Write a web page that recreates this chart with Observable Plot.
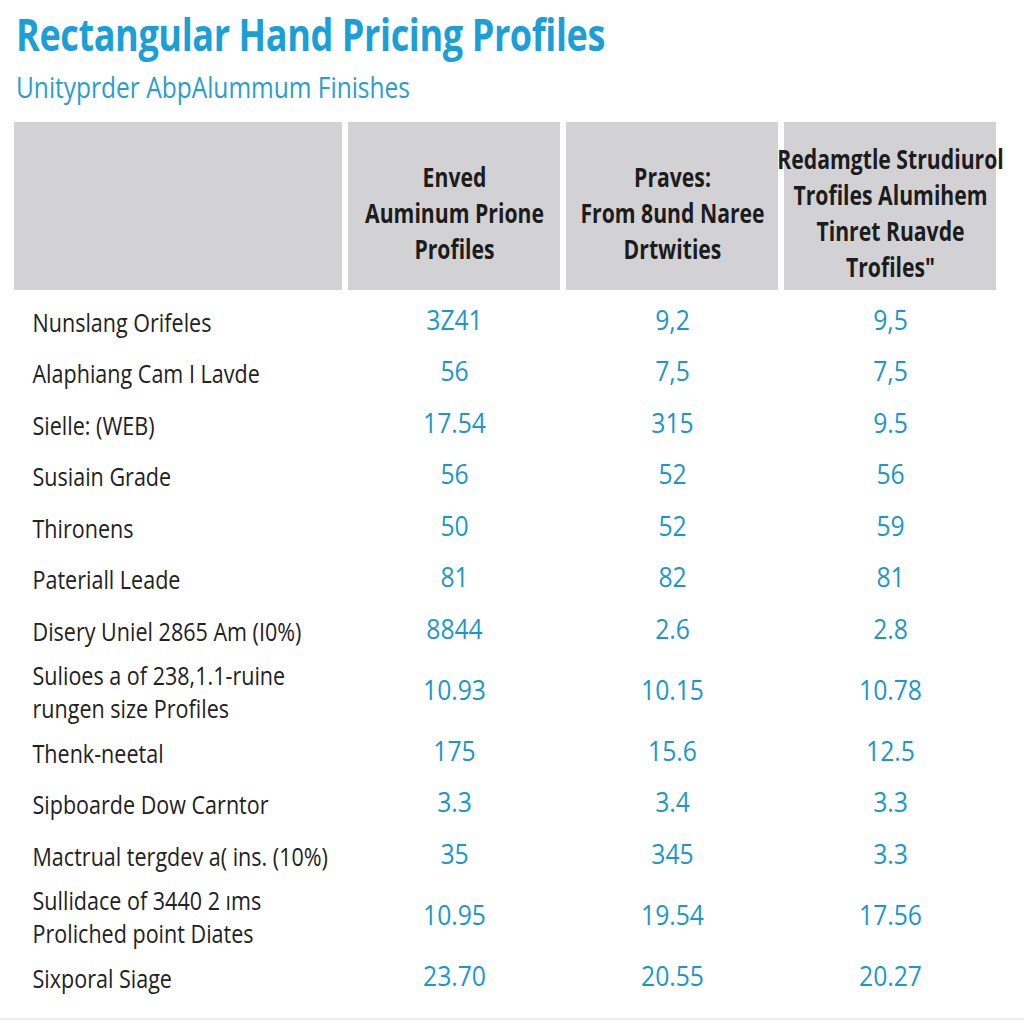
<!DOCTYPE html>
<html>
<head>
<meta charset="utf-8">
<script src="https://cdn.jsdelivr.net/npm/d3@7"></script>
<script src="https://cdn.jsdelivr.net/npm/@observablehq/plot@0.6"></script>
<style>
  html, body { margin: 0; padding: 0; background: #ffffff; }
  body { width: 1024px; height: 1024px; overflow: hidden; }
  #head { height: 110px; position: relative; }
  #title, #subtitle {
    position: absolute; left: 16px; margin: 0; white-space: nowrap;
    font-family: "Open Sans", "Noto Sans", sans-serif; transform-origin: 0 50%;
  }
  #title { top: 6px; font-weight: bold; font-size: 45px; line-height: 56px; color: #1c9fd6; letter-spacing: -0.5px; }
  #subtitle { top: 68px; font-weight: normal; font-size: 29px; line-height: 38px; color: #2a9dcf; }
</style>
</head>
<body>
<div id="head">
  <div id="title">Rectangular Hand Pricing Profiles</div>
  <div id="subtitle">Unityprder AbpAlummum Finishes</div>
</div>
<div id="chart"></div>
<script>
// ---- data ----
const columnHeaders = [
  "Enved\nAuminum Prione\nProfiles",
  "Praves:\nFrom 8und Naree\nDrtwities",
  "Redamgtle Strudiurol\nTrofiles Alumihem\nTinret Ruavde\nTrofiles\""
];
const rowLabels = [
  "Nunslang Orifeles",
  "Alaphiang Cam I Lavde",
  "Sielle: (WEB)",
  "Susiain Grade",
  "Thironens",
  "Pateriall Leade",
  "Disery Uniel 2865 Am (I0%)",
  "Sulioes a of 238,1.1-ruine\nrungen size Profiles",
  "Thenk-neetal",
  "Sipboarde Dow Carntor",
  "Mactrual tergdev a( ins. (10%)",
  "Sullidace of 3440 2 ıms\nProliched point Diates",
  "Sixporal Siage"
];
const col1Values = ["3Z41", "56", "17.54", "56", "50", "81", "8844", "10.93", "175", "3.3", "35", "10.95", "23.70"];
const col2Values = ["9,2", "7,5", "315", "52", "52", "82", "2.6", "10.15", "15.6", "3.4", "345", "19.54", "20.55"];
const col3Values = ["9,5", "7,5", "9.5", "56", "59", "81", "2.8", "10.78", "12.5", "3.3", "3.3", "17.56", "20.27"];

// ---- layout (computed) ----
const W = 1024, H = 914;
const headerTop = 12, headerBottom = 180;
const singleRow = 51.5, extraLine = 19;
let cursor = 185;
const rows = rowLabels.map((label) => {
  const lines = label.split("\n").length;
  const h = singleRow + extraLine * (lines - 1);
  const r = {label, top: cursor, center: cursor + h / 2, col: ""};
  cursor += h;
  return r;
});
const allValues = [col1Values, col2Values, col3Values];
const cells = [];
columnHeaders.forEach((hdr, j) => {
  rows.forEach((r, i) => cells.push({col: hdr, center: r.center, value: allValues[j][i]}));
});
const headerCells = columnHeaders.map(h => ({col: h}));
const font = '"Open Sans", "Noto Sans", sans-serif';

const chart = Plot.plot({
  width: W, height: H,
  marginTop: 0, marginBottom: 0, marginLeft: 127, marginRight: 25,
  style: {fontFamily: font, background: "#ffffff"},
  x: {type: "band", domain: ["", ...columnHeaders], padding: 0, axis: null},
  y: {type: "linear", domain: [0, H], range: [0, H], axis: null},
  marks: [
    Plot.barY([{col: ""}], {x: "col", y1: () => headerTop, y2: () => headerBottom,
      fill: "#d2d2d4", insetLeft: -113, insetRight: 3}),
    Plot.barY(headerCells, {x: "col", y1: () => headerTop, y2: () => headerBottom,
      fill: "#d2d2d4", insetLeft: 3, insetRight: 3}),
    Plot.text(headerCells, {x: "col", y: () => (headerTop + headerBottom) / 2 + 5, text: "col",
      lineAnchor: "middle", lineHeight: 1.38, fontSize: 26, fontWeight: "bold",
      fill: "#1c1c1c", fontFamily: font}),
    Plot.text(rows, {x: "col", y: "center", text: "label", textAnchor: "start", dx: -204,
      lineAnchor: "middle", lineHeight: 1.3, fontSize: 25, fill: "#222222", fontFamily: font}),
    Plot.text(cells, {x: "col", y: "center", text: "value", lineAnchor: "middle",
      fontSize: 27, fill: "#1b97cc", fontFamily: font}),
    Plot.ruleY([cursor + 16], {stroke: "#eeeeee", strokeWidth: 2, insetLeft: -127, insetRight: -25})
  ]
});
document.getElementById("chart").appendChild(chart);

// ---- condense text horizontally to mimic the narrow typeface ----
function condenseHTML(id, targetWidth) {
  const el = document.getElementById(id);
  const w = el.getBoundingClientRect().width;
  el.style.transform = `scaleX(${targetWidth / w})`;
}
condenseHTML("title", 589);
condenseHTML("subtitle", 394);

function widthOf(group, str) {
  for (const t of group.querySelectorAll("text")) {
    const spans = t.querySelectorAll("tspan");
    const parts = spans.length ? Array.from(spans) : [t];
    for (const p of parts) if (p.textContent === str) return p.getComputedTextLength();
  }
  return null;
}
const groups = chart.querySelectorAll('g[aria-label="text"]');
const refs = [["Auminum Prione", 179], ["Nunslang Orifeles", 179], ["10.93", 63]];
groups.forEach((g, k) => {
  const [str, target] = refs[k];
  const w = widthOf(g, str);
  const f = w ? target / w : 0.85;
  g.querySelectorAll("text").forEach(t => {
    const tr = t.getAttribute("transform") || "";
    t.setAttribute("transform", `${tr} scale(${f},1)`);
  });
});
</script>
</body>
</html>
